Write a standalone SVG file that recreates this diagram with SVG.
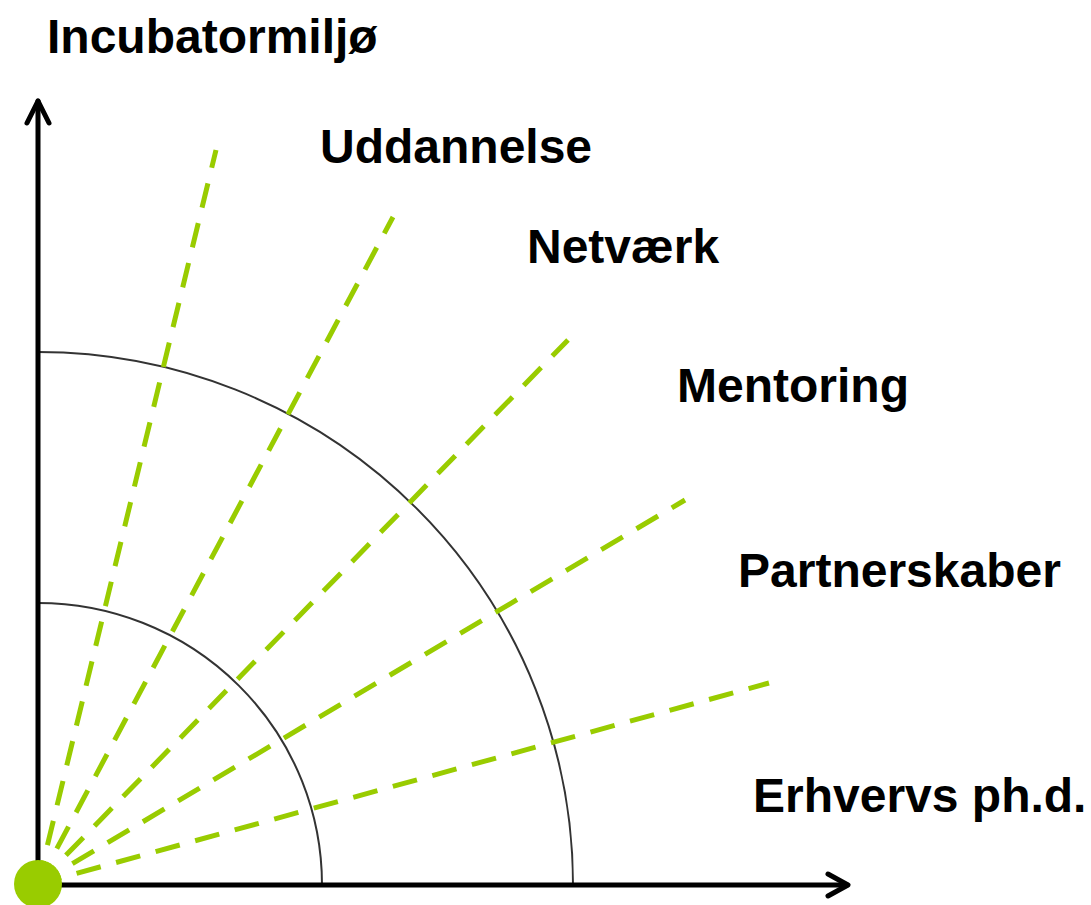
<svg xmlns="http://www.w3.org/2000/svg" width="1091" height="905" viewBox="0 0 1091 905">
<style>
.lbl{font-family:"Liberation Sans",Arial,sans-serif;font-weight:bold;font-size:48px;fill:#000}
.axis{stroke:#000;stroke-width:5;fill:none;stroke-linecap:round;stroke-linejoin:round}
.arc{stroke:#333;stroke-width:2;fill:none}
.ray{stroke:#99CC00;stroke-width:5;stroke-dasharray:25 16;stroke-dashoffset:1;fill:none}
</style>
<rect width="1091" height="905" fill="#fff"/>
<g id="arcs">
<path class="arc" d="M38,603 A284,282 0 0 1 322,885"/>
<path class="arc" d="M38,352 A535,533 0 0 1 573,885"/>
</g>
<g id="connectors">
<line class="ray" x1="38" y1="884" x2="216" y2="150"/>
<line class="ray" x1="38" y1="884" x2="393" y2="217"/>
<line class="ray" x1="38" y1="884" x2="568" y2="340"/>
<line class="ray" x1="38" y1="884" x2="685" y2="500"/>
<line class="ray" x1="38" y1="884" x2="769" y2="683"/>
</g>
<g id="axes">
<line class="axis" x1="38" y1="885" x2="38" y2="101"/>
<polyline class="axis" points="27,123 38,101 49,123"/>
<line class="axis" x1="38" y1="885" x2="847" y2="885"/>
<polyline class="axis" points="828,874 848,885 828,896"/>
</g>
<g id="origin"><circle cx="38" cy="884" r="24" fill="#99CC00"/></g>
<g id="label-incubator"><text class="lbl" x="47" y="53">Incubatormiljø</text></g>
<g id="label-uddannelse"><text class="lbl" x="320" y="163">Uddannelse</text></g>
<g id="label-netvaerk"><text class="lbl" x="527" y="263">Netværk</text></g>
<g id="label-mentoring"><text class="lbl" x="677" y="402">Mentoring</text></g>
<g id="label-partnerskaber"><text class="lbl" x="738" y="587">Partnerskaber</text></g>
<g id="label-erhvervs"><text class="lbl" x="753" y="812">Erhvervs ph.d.</text></g>
</svg>
